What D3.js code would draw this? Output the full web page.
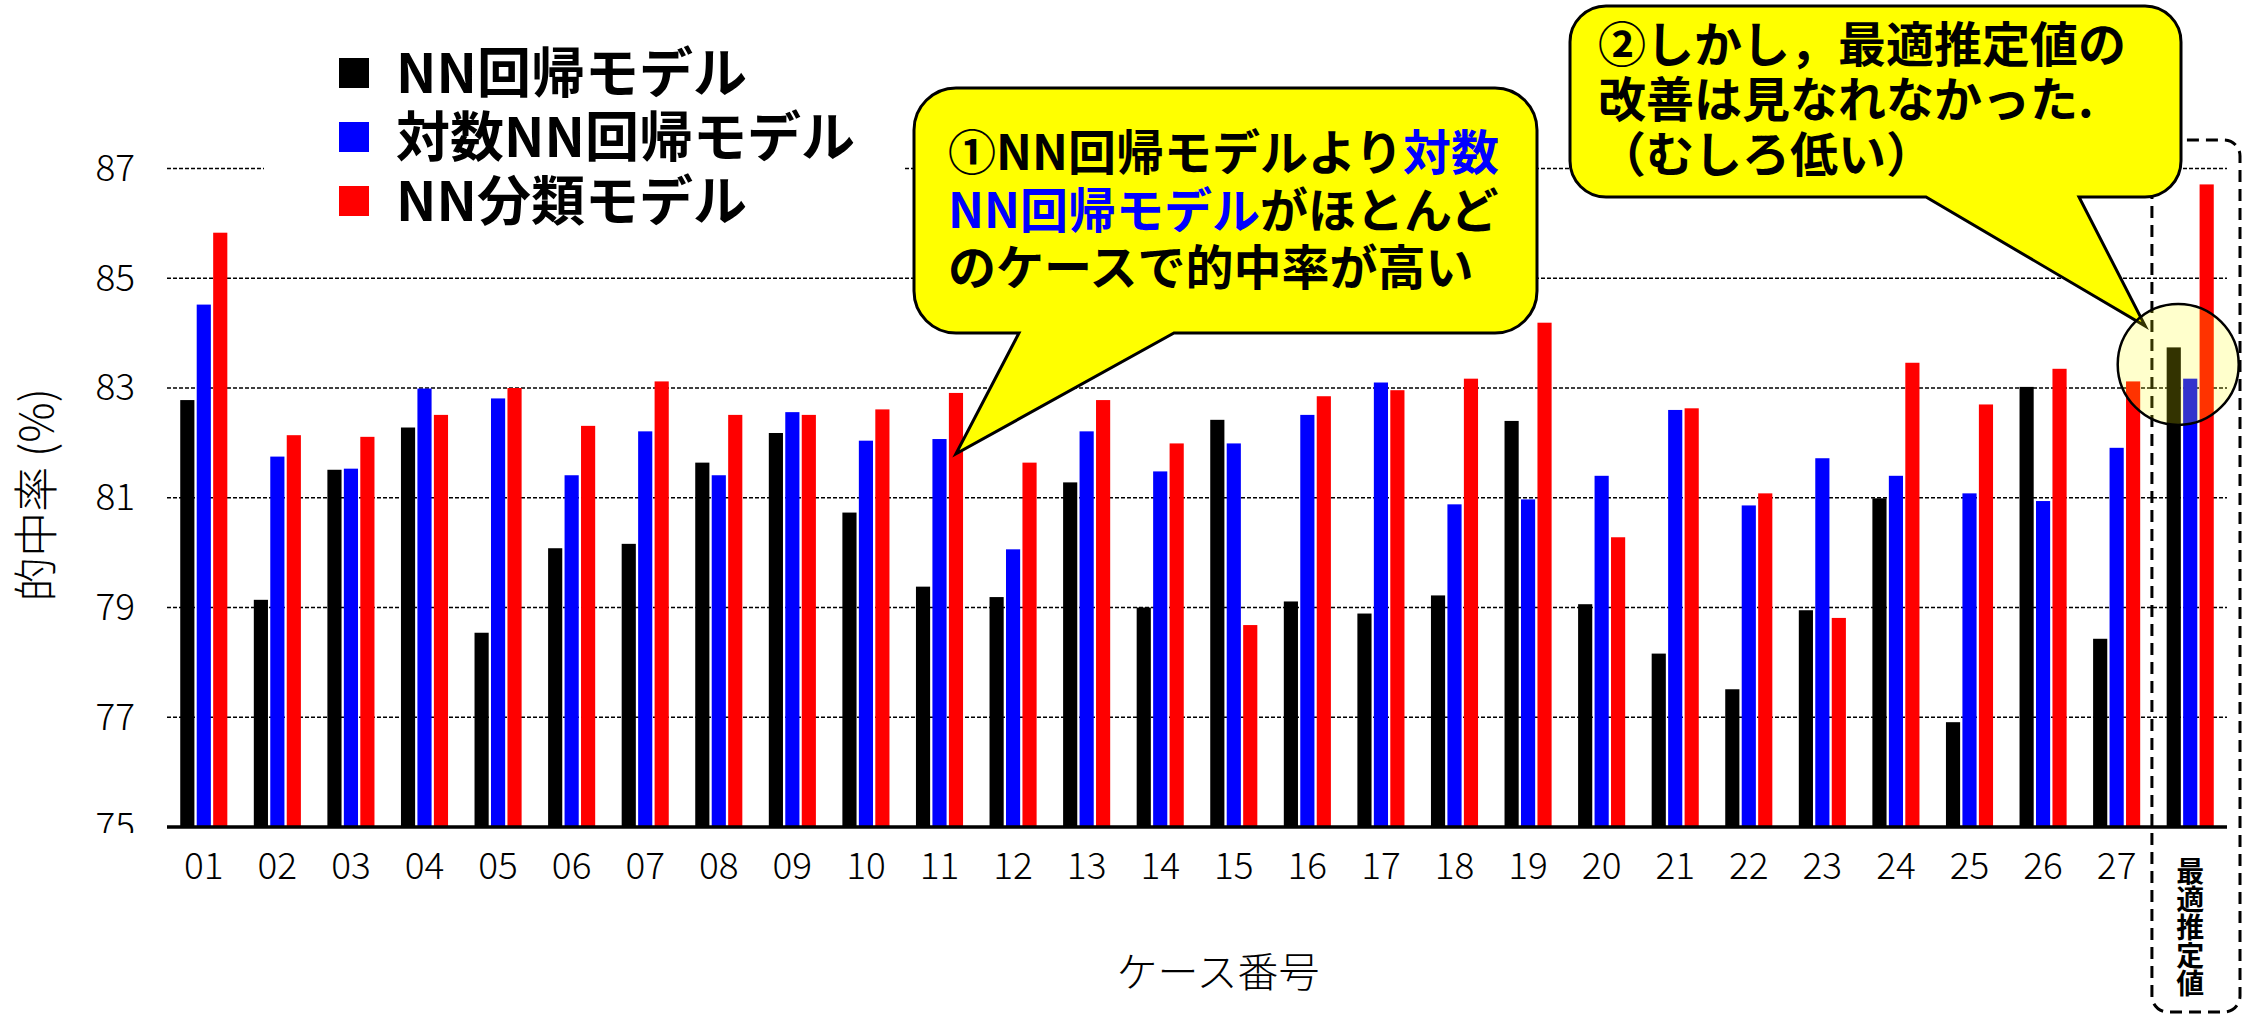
<!DOCTYPE html>
<html>
<head>
<meta charset="utf-8">
<script src="https://cdn.jsdelivr.net/npm/d3@7"></script>
<style>
  html, body { margin: 0; padding: 0; background: #ffffff; }
  svg { display: block; }
</style>
</head>
<body>
<svg id="chart" width="2244" height="1016"></svg>
<script>
// ---- data ----
const cases = ["01","02","03","04","05","06","07","08","09","10","11","12","13","14",
               "15","16","17","18","19","20","21","22","23","24","25","26","27","最適推定値"];
const seriesNames = ["NN回帰モデル", "対数NN回帰モデル", "NN分類モデル"];
const seriesColors = ["#000000", "#0000ff", "#ff0000"];
const nnRegression = [82.78, 79.14, 81.51, 82.28, 78.54, 80.08, 80.16, 81.64, 82.18, 80.73,
                      79.38, 79.19, 81.28, 79.00, 82.42, 79.11, 78.89, 79.22, 82.40, 79.06,
                      78.16, 77.51, 78.95, 80.99, 76.91, 83.02, 78.43, 83.74];
const logNnRegression = [84.52, 81.75, 81.53, 82.99, 82.81, 81.41, 82.21, 81.41, 82.56, 82.04,
                         82.07, 80.06, 82.21, 81.48, 81.99, 82.51, 83.10, 80.88, 80.97, 81.40,
                         82.60, 80.86, 81.72, 81.40, 81.08, 80.94, 81.91, 83.17];
const nnClassification = [85.83, 82.14, 82.11, 82.51, 83.00, 82.31, 83.12, 82.51, 82.51, 82.61,
                          82.91, 81.64, 82.78, 81.99, 78.68, 82.85, 82.96, 83.17, 84.19, 80.28,
                          82.63, 81.08, 78.81, 83.46, 82.70, 83.35, 83.12, 86.71];
const yTicks = [75, 77, 79, 81, 83, 85, 87];
const yDomain = [75, 87];

const series = [nnRegression, logNnRegression, nnClassification];
const rows = cases.map((c, i) => ({ c, vals: series.map(s => s[i]) }));

// ---- layout ----
const svg = d3.select("#chart");
const plot = { left: 167, right: 2227, top: 168.5, bottom: 827 };
const thin = "'Noto Sans CJK JP', 'Noto Sans', sans-serif";

const x = d3.scaleBand().domain(cases).range([plot.left, plot.right])
  .paddingInner(0.36).paddingOuter(0.18);
const xs = d3.scaleBand().domain(d3.range(3)).range([0, x.bandwidth()])
  .paddingInner(0.14).paddingOuter(0);
const y = d3.scaleLinear().domain(yDomain).range([plot.bottom, plot.top]);

// gridlines
const grid = svg.append("g");
grid.selectAll("line").data(yTicks.filter(t => t > yDomain[0])).join("line")
  .attr("x1", plot.left).attr("x2", plot.right)
  .attr("y1", d => y(d)).attr("y2", d => y(d))
  .attr("stroke", "#000").attr("stroke-width", 1.3)
  .attr("stroke-dasharray", "4,2");

// bars
const groups = svg.append("g").selectAll("g").data(rows).join("g")
  .attr("transform", d => `translate(${x(d.c)},0)`);
groups.selectAll("rect").data(d => d.vals.map((v, k) => ({ v, k }))).join("rect")
  .attr("x", d => xs(d.k))
  .attr("width", xs.bandwidth())
  .attr("y", d => y(d.v))
  .attr("height", d => y(yDomain[0]) - y(d.v))
  .attr("fill", d => seriesColors[d.k]);

// y axis labels (the lowest one is cut off just under the baseline)
svg.append("clipPath").attr("id", "yclip")
  .append("rect").attr("x", 0).attr("y", 0).attr("width", plot.left).attr("height", plot.bottom + 6);
const yAxis = svg.append("g").attr("clip-path", "url(#yclip)")
  .append("g")
  .attr("transform", `translate(${plot.left - 32},0)`)
  .call(d3.axisLeft(y).tickValues(yTicks).tickSize(0).tickPadding(0).tickFormat(d3.format("d")));
yAxis.select(".domain").remove();
yAxis.selectAll("text")
  .attr("font-family", thin).attr("font-weight", 300)
  .attr("font-size", 37).attr("fill", "#000");

// x axis baseline + labels
svg.append("line")
  .attr("x1", plot.left).attr("x2", plot.right)
  .attr("y1", plot.bottom).attr("y2", plot.bottom)
  .attr("stroke", "#000").attr("stroke-width", 3.5);

const xLabels = svg.append("g");
xLabels.selectAll("text").data(cases.slice(0, -1)).join("text")
  .attr("x", d => x(d) + x.bandwidth() / 2)
  .attr("y", 879)
  .attr("text-anchor", "middle")
  .attr("font-family", thin).attr("font-weight", 300)
  .attr("font-size", 37).attr("fill", "#000")
  .text(d => d);

// vertical label for the last category
const lastCase = cases[cases.length - 1];
svg.append("text")
  .attr("x", x(lastCase) + x.bandwidth() / 2)
  .attr("y", 857)
  .attr("style", "writing-mode: vertical-rl; text-orientation: upright;")
  .attr("font-family", thin).attr("font-weight", 700)
  .attr("font-size", 28).attr("fill", "#000")
  .text(lastCase);

// axis titles
svg.append("text")
  .attr("x", 1218).attr("y", 987)
  .attr("text-anchor", "middle")
  .attr("font-family", thin).attr("font-weight", 300)
  .attr("font-size", 41).attr("fill", "#000")
  .text("ケース番号");
svg.append("text")
  .attr("transform", "translate(53,495) rotate(-90)")
  .attr("text-anchor", "middle")
  .attr("font-family", thin).attr("font-weight", 300)
  .attr("font-size", 45).attr("fill", "#000")
  .text("的中率 (%)");

// dashed frame around the best-estimate group
const gLast = x(lastCase);
const frameLeft = gLast - x.step() * x.paddingOuter() - 1.5;
svg.append("rect")
  .attr("x", frameLeft).attr("y", 140)
  .attr("width", 2240 - frameLeft).attr("height", 872)
  .attr("rx", 16).attr("ry", 16)
  .attr("fill", "none").attr("stroke", "#000")
  .attr("stroke-width", 3).attr("stroke-dasharray", "12,7");

// legend
const legend = svg.append("g");
legend.append("rect").attr("x", 264).attr("y", 20).attr("width", 640).attr("height", 225)
  .attr("fill", "#fff");
seriesNames.forEach((name, i) => {
  const cy = 73 + i * 64;
  legend.append("rect").attr("x", 339).attr("y", cy - 15).attr("width", 30).attr("height", 30)
    .attr("fill", seriesColors[i]);
  legend.append("text").attr("x", 396).attr("y", cy + 20)
    .attr("font-family", thin).attr("font-weight", 700)
    .attr("font-size", 54).attr("fill", "#000")
    .text(name);
});

// speech-bubble helper: rounded box with a pointer leaving the bottom edge
function bubblePath(x0, y0, x1, y1, r, bx0, bx1, tx, ty) {
  return `M${x0 + r},${y0} H${x1 - r} A${r},${r} 0 0 1 ${x1},${y0 + r} V${y1 - r} ` +
         `A${r},${r} 0 0 1 ${x1 - r},${y1} H${bx1} L${tx},${ty} L${bx0},${y1} H${x0 + r} ` +
         `A${r},${r} 0 0 1 ${x0},${y1 - r} V${y0 + r} A${r},${r} 0 0 1 ${x0 + r},${y0} Z`;
}

function writeLines(lines, x0, y0, lh) {
  const t = svg.append("text")
    .attr("font-family", thin).attr("font-weight", 700)
    .attr("font-size", 48);
  lines.forEach((parts, i) => {
    parts.forEach((p, j) => {
      const ts = t.append("tspan").attr("fill", p[1]).text(p[0]);
      if (j === 0) ts.attr("x", x0).attr("y", y0 + i * lh);
    });
  });
}

// bubble 1: points at the classification bar of case 11
const c11 = cases[10];
const tip1 = [x(c11) + xs(2) + xs.bandwidth() / 2, y(81.8)];
svg.append("path")
  .attr("d", bubblePath(914, 88, 1537, 333, 42, 1019, 1174, tip1[0], tip1[1]))
  .attr("fill", "#ffff00").attr("stroke", "#000").attr("stroke-width", 3);
writeLines([
  [["①NN回帰モデルより", "#000"], ["対数", "#0000ff"]],
  [["NN回帰モデル", "#0000ff"], ["がほとんど", "#000"]],
  [["のケースで的中率が高い", "#000"]]
], 948, 170, 57.7);

// bubble 2: points at the best-estimate group
const tip2 = [gLast + x.bandwidth() / 2 - 45, y(84.13)];
svg.append("path")
  .attr("d", bubblePath(1570, 6, 2181, 197, 36, 1926, 2079, tip2[0], tip2[1]))
  .attr("fill", "#ffff00").attr("stroke", "#000").attr("stroke-width", 3);
writeLines([
  [["②しかし，最適推定値の", "#000"]],
  [["改善は見なれなかった.", "#000"]],
  [["（むしろ低い）", "#000"]]
], 1598, 62, 55);

// translucent highlight circle over the best-estimate bars
svg.append("circle")
  .attr("cx", gLast + x.bandwidth() / 2 - 12)
  .attr("cy", y(83.43))
  .attr("r", 60.5)
  .attr("fill", "#ffff00").attr("fill-opacity", 0.2)
  .attr("stroke", "#000").attr("stroke-width", 2.5);
</script>
</body>
</html>
